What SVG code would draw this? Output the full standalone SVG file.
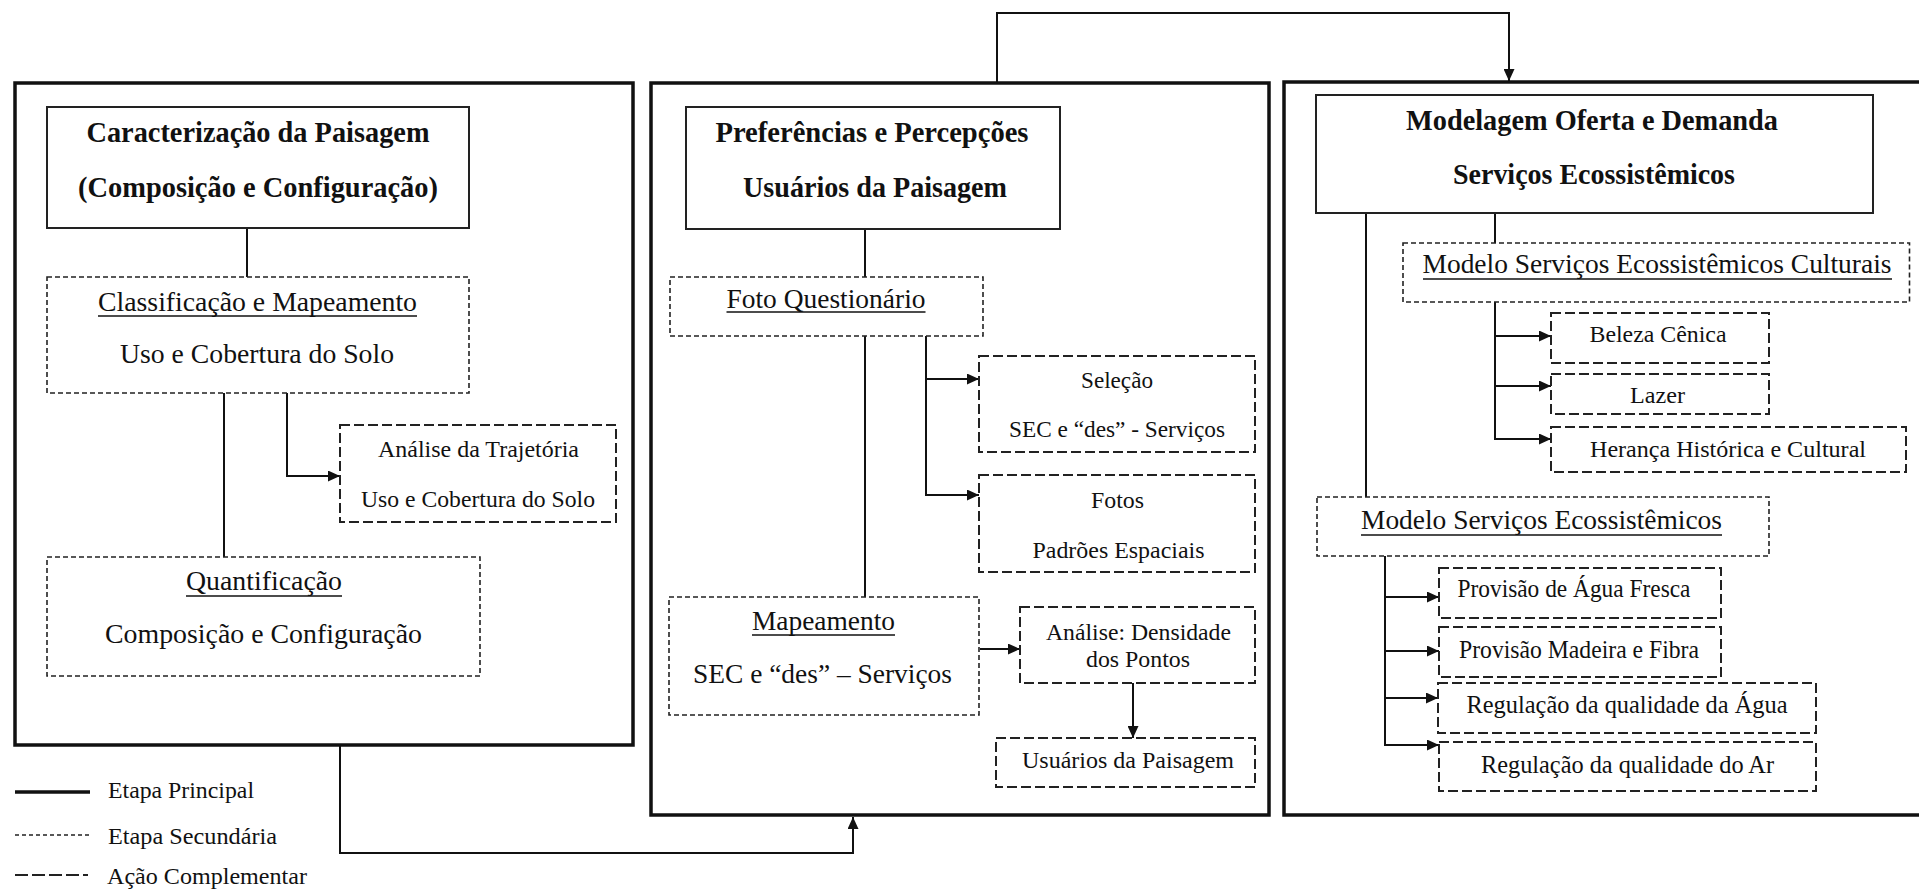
<svg xmlns="http://www.w3.org/2000/svg" width="1919" height="891" viewBox="0 0 1919 891">
<style>
.panel{fill:none;stroke:#111;stroke-width:3.5}
.main{fill:#fff;stroke:#222;stroke-width:2}
.sec{fill:#fff;stroke:#222;stroke-width:1.6;stroke-dasharray:5 3}
.comp{fill:#fff;stroke:#222;stroke-width:2;stroke-dasharray:10 4}
.conn{fill:none;stroke:#111;stroke-width:2}
.ul{stroke:#111;stroke-width:1.4}
text{font-family:"Liberation Serif","Times New Roman",serif;fill:#111;text-anchor:middle}
.tb{font-weight:bold;font-size:29px}
.t26{font-size:28px}
.t25{font-size:27px}
.t23{font-size:25px}
.t22{font-size:24px}
.t21{font-size:23px}
.leg{font-size:23px;text-anchor:start}
</style>
<defs>
<marker id="arr" markerUnits="userSpaceOnUse" markerWidth="12" markerHeight="11" refX="12" refY="5.5" orient="auto">
<path d="M0,0 L12,5.5 L0,11 Z" fill="#111"/>
</marker>
</defs>
<rect width="1919" height="891" fill="#fff"/>

<g id="panels">
<rect class="panel" x="15" y="83" width="618" height="662"/>
<rect class="panel" x="651" y="83" width="618" height="732"/>
<rect class="panel" x="1284" y="82" width="660" height="733"/>
</g>

<g id="connectors">
<line class="conn" x1="247" y1="228" x2="247" y2="277"/>
<line class="conn" x1="224" y1="393" x2="224" y2="557"/>
<polyline class="conn" points="287,393 287,476 340,476" marker-end="url(#arr)"/>
<polyline class="conn" points="340,745 340,853 853,853 853,817" marker-end="url(#arr)"/>
<line class="conn" x1="865" y1="229" x2="865" y2="277"/>
<line class="conn" x1="865" y1="336" x2="865" y2="597"/>
<polyline class="conn" points="926,336 926,495 979,495" marker-end="url(#arr)"/>
<polyline class="conn" points="926,379 979,379" marker-end="url(#arr)"/>
<polyline class="conn" points="980,649 1020,649" marker-end="url(#arr)"/>
<polyline class="conn" points="1133,683 1133,738" marker-end="url(#arr)"/>
<polyline class="conn" points="997,83 997,13 1509,13 1509,81" marker-end="url(#arr)"/>
<line class="conn" x1="1495" y1="213" x2="1495" y2="243"/>
<line class="conn" x1="1366" y1="213" x2="1366" y2="497"/>
<polyline class="conn" points="1495,302 1495,439 1551,439" marker-end="url(#arr)"/>
<polyline class="conn" points="1495,336 1551,336" marker-end="url(#arr)"/>
<polyline class="conn" points="1495,386 1551,386" marker-end="url(#arr)"/>
<polyline class="conn" points="1385,556 1385,745 1439,745" marker-end="url(#arr)"/>
<polyline class="conn" points="1385,597 1439,597" marker-end="url(#arr)"/>
<polyline class="conn" points="1385,651 1439,651" marker-end="url(#arr)"/>
<polyline class="conn" points="1385,698 1438,698" marker-end="url(#arr)"/>
</g>

<g id="n-caracterizacao">
<rect class="main" x="47" y="107" width="422" height="121"/>
<text class="tb" x="258" y="142" textLength="343" lengthAdjust="spacingAndGlyphs">Caracterização da Paisagem</text>
<text class="tb" x="258" y="197" textLength="360" lengthAdjust="spacingAndGlyphs">(Composição e Configuração)</text>
</g>
<g id="n-classificacao">
<rect class="sec" x="47" y="277" width="422" height="116"/>
<text class="t26" x="257.5" y="311" textLength="319" lengthAdjust="spacingAndGlyphs">Classificação e Mapeamento</text>
<line class="ul" x1="98" y1="316" x2="417" y2="316"/>
<text class="t26" x="257" y="363" textLength="274" lengthAdjust="spacingAndGlyphs">Uso e Cobertura do Solo</text>
</g>
<g id="n-trajetoria">
<rect class="comp" x="340" y="425" width="276" height="97"/>
<text class="t21" x="478.5" y="457" textLength="201" lengthAdjust="spacingAndGlyphs">Análise da Trajetória</text>
<text class="t21" x="478" y="507" textLength="234" lengthAdjust="spacingAndGlyphs">Uso e Cobertura do Solo</text>
</g>
<g id="n-quantificacao">
<rect class="sec" x="47" y="557" width="433" height="119"/>
<text class="t26" x="264" y="590" textLength="156" lengthAdjust="spacingAndGlyphs">Quantificação</text>
<line class="ul" x1="186" y1="596" x2="342" y2="596"/>
<text class="t26" x="263.5" y="643" textLength="317" lengthAdjust="spacingAndGlyphs">Composição e Configuração</text>
</g>

<g id="n-preferencias">
<rect class="main" x="686" y="107" width="374" height="122"/>
<text class="tb" x="872" y="142" textLength="313" lengthAdjust="spacingAndGlyphs">Preferências e Percepções</text>
<text class="tb" x="875" y="197" textLength="264" lengthAdjust="spacingAndGlyphs">Usuários da Paisagem</text>
</g>
<g id="n-foto">
<rect class="sec" x="670" y="277" width="313" height="59"/>
<text class="t25" x="826" y="308" textLength="199" lengthAdjust="spacingAndGlyphs">Foto Questionário</text>
<line class="ul" x1="726.5" y1="312" x2="925.5" y2="312"/>
</g>
<g id="n-selecao">
<rect class="comp" x="979" y="356" width="276" height="96"/>
<text class="t22" x="1117" y="388" textLength="72" lengthAdjust="spacingAndGlyphs">Seleção</text>
<text class="t22" x="1117" y="437" textLength="216" lengthAdjust="spacingAndGlyphs">SEC e “des” - Serviços</text>
</g>
<g id="n-fotos">
<rect class="comp" x="979" y="475" width="276" height="97"/>
<text class="t22" x="1117.5" y="508" textLength="53" lengthAdjust="spacingAndGlyphs">Fotos</text>
<text class="t22" x="1118.5" y="558" textLength="172" lengthAdjust="spacingAndGlyphs">Padrões Espaciais</text>
</g>
<g id="n-mapeamento">
<rect class="sec" x="669" y="597" width="310" height="118"/>
<text class="t25" x="823.5" y="630" textLength="143" lengthAdjust="spacingAndGlyphs">Mapeamento</text>
<line class="ul" x1="752" y1="635" x2="895" y2="635"/>
<text class="t25" x="822.5" y="683" textLength="259" lengthAdjust="spacingAndGlyphs">SEC e “des” – Serviços</text>
</g>
<g id="n-densidade">
<rect class="comp" x="1020" y="607" width="235" height="76"/>
<text class="t21" x="1138.5" y="640" textLength="185" lengthAdjust="spacingAndGlyphs">Análise: Densidade</text>
<text class="t21" x="1138" y="667" textLength="104" lengthAdjust="spacingAndGlyphs">dos Pontos</text>
</g>
<g id="n-usuarios">
<rect class="comp" x="996" y="738" width="259" height="49"/>
<text class="t22" x="1128" y="768" textLength="212" lengthAdjust="spacingAndGlyphs">Usuários da Paisagem</text>
</g>

<g id="n-modelagem">
<rect class="main" x="1316" y="95" width="557" height="118"/>
<text class="tb" x="1592" y="130" textLength="372" lengthAdjust="spacingAndGlyphs">Modelagem Oferta e Demanda</text>
<text class="tb" x="1594" y="184" textLength="282" lengthAdjust="spacingAndGlyphs">Serviços Ecossistêmicos</text>
</g>
<g id="n-culturais">
<rect class="sec" x="1403" y="243" width="506.5" height="59"/>
<text class="t26" x="1657" y="273" textLength="469" lengthAdjust="spacingAndGlyphs">Modelo Serviços Ecossistêmicos Culturais</text>
<line class="ul" x1="1423" y1="279" x2="1892" y2="279"/>
</g>
<g id="n-beleza">
<rect class="comp" x="1551" y="313" width="218" height="50"/>
<text class="t22" x="1658" y="342" textLength="137" lengthAdjust="spacingAndGlyphs">Beleza Cênica</text>
</g>
<g id="n-lazer">
<rect class="comp" x="1551" y="374" width="218" height="40"/>
<text class="t22" x="1657.5" y="403" textLength="55" lengthAdjust="spacingAndGlyphs">Lazer</text>
</g>
<g id="n-heranca">
<rect class="comp" x="1551" y="427" width="355" height="45"/>
<text class="t22" x="1728" y="457" textLength="276" lengthAdjust="spacingAndGlyphs">Herança Histórica e Cultural</text>
</g>
<g id="n-modelo-se">
<rect class="sec" x="1317" y="497" width="452" height="59"/>
<text class="t26" x="1541.5" y="529" textLength="361" lengthAdjust="spacingAndGlyphs">Modelo Serviços Ecossistêmicos</text>
<line class="ul" x1="1361" y1="535" x2="1722" y2="535"/>
</g>
<g id="n-agua-fresca">
<rect class="comp" x="1439" y="568" width="282" height="50"/>
<text class="t23" x="1574" y="597" textLength="233" lengthAdjust="spacingAndGlyphs">Provisão de Água Fresca</text>
</g>
<g id="n-madeira">
<rect class="comp" x="1439" y="627" width="282" height="50"/>
<text class="t23" x="1579" y="658" textLength="240" lengthAdjust="spacingAndGlyphs">Provisão Madeira e Fibra</text>
</g>
<g id="n-reg-agua">
<rect class="comp" x="1438" y="683" width="378" height="50"/>
<text class="t23" x="1627" y="713" textLength="321" lengthAdjust="spacingAndGlyphs">Regulação da qualidade da Água</text>
</g>
<g id="n-reg-ar">
<rect class="comp" x="1439" y="742" width="377" height="49"/>
<text class="t23" x="1627.5" y="773" textLength="293" lengthAdjust="spacingAndGlyphs">Regulação da qualidade do Ar</text>
</g>

<g id="legend">
<line x1="15" y1="792" x2="90" y2="792" stroke="#111" stroke-width="3.5"/>
<line x1="15" y1="835" x2="90" y2="835" stroke="#222" stroke-width="1.5" stroke-dasharray="4 3"/>
<line x1="15" y1="875" x2="88" y2="875" stroke="#222" stroke-width="2" stroke-dasharray="13 4"/>
<text class="leg" x="108" y="798" textLength="146" lengthAdjust="spacingAndGlyphs">Etapa Principal</text>
<text class="leg" x="108" y="844" textLength="169" lengthAdjust="spacingAndGlyphs">Etapa Secundária</text>
<text class="leg" x="107" y="884" textLength="200" lengthAdjust="spacingAndGlyphs">Ação Complementar</text>
</g>
</svg>
